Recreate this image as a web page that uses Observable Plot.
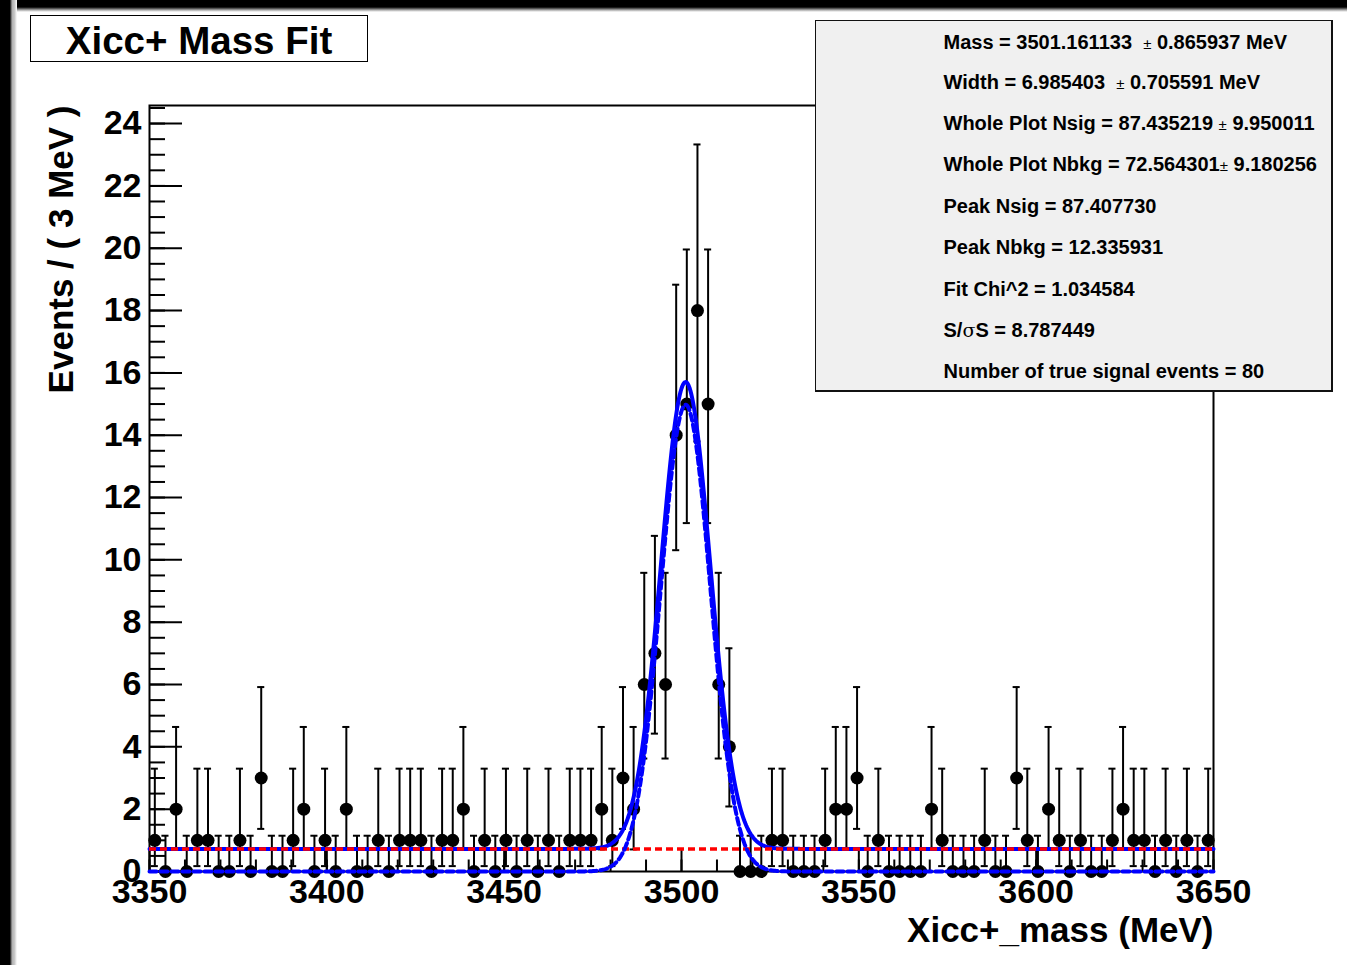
<!DOCTYPE html>
<html>
<head>
<meta charset="utf-8">
<script src="https://cdn.jsdelivr.net/npm/d3@7"></script>
<script src="https://cdn.jsdelivr.net/npm/@observablehq/plot@0.6"></script>
<style>
html,body{margin:0;padding:0;background:#fff;}
#wrap{position:relative;width:1347px;height:965px;overflow:hidden;background:#fff;font-family:"Liberation Sans",Arial,Helvetica,sans-serif;}
#chart{position:absolute;left:0;top:0;}
.band-top{position:absolute;left:0;top:0;width:1347px;height:12px;background:linear-gradient(to bottom,#000 0px,#000 7px,#555 8.5px,#aaa 10px,#fff 12px);}
.band-left{position:absolute;left:0;top:0;width:17px;height:965px;background:linear-gradient(to right,#000 0px,#000 10px,#666 11px,#b4b4b4 12.5px,#c8c8c8 14.5px,#fff 17px);}
#title{position:absolute;left:30px;top:15px;width:336px;height:45px;border:1.5px solid #000;background:#fff;font-weight:bold;font-size:38.5px;text-align:center;line-height:50px;color:#000;}
#stats{position:absolute;left:815px;top:20px;width:515px;height:369px;border:1.5px solid #111;border-right-width:2px;border-bottom-width:2px;background:#f0f0f0;color:#000;}
.ln{position:absolute;left:127.5px;font-weight:bold;font-size:20px;line-height:20px;white-space:pre;}
.pm{font-weight:normal;font-size:15px;}
.sym{font-family:"DejaVu Serif","Liberation Serif",serif;font-weight:normal;font-size:19px;}
</style>
</head>
<body>
<div id="wrap">
  <div id="chart"></div>
  <div class="band-top"></div>
  <div class="band-left"></div>
  <div id="title">Xicc+ Mass Fit</div>
  <div id="stats">
    <div class="ln" style="top:10.5px">Mass = 3501.161133  <span class="pm">±</span> 0.865937 MeV</div>
    <div class="ln" style="top:50.5px">Width = 6.985403  <span class="pm">±</span> 0.705591 MeV</div>
    <div class="ln" style="top:91.5px">Whole Plot Nsig = 87.435219 <span class="pm">±</span> 9.950011</div>
    <div class="ln" style="top:132.5px">Whole Plot Nbkg = 72.564301<span class="pm">±</span> 9.180256</div>
    <div class="ln" style="top:174.5px">Peak Nsig = 87.407730</div>
    <div class="ln" style="top:215.5px">Peak Nbkg = 12.335931</div>
    <div class="ln" style="top:257.5px">Fit Chi^2 = 1.034584</div>
    <div class="ln" style="top:298.5px">S/<span class="sym">σ</span>S = 8.787449</div>
    <div class="ln" style="top:339.5px">Number of true signal events = 80</div>
  </div>
</div>
<script>
// ---- data ----
const binStart = 3350;       // first bin lower edge (MeV)
const binWidth = 3;          // MeV per bin
const counts = [
  1,0,2,0,1,1,0,0,1,0,
  3,0,0,1,2,0,1,0,2,0,
  0,1,0,1,1,1,0,1,1,2,
  0,1,0,1,0,1,0,1,0,1,
  1,1,2,1,3,2,6,7,6,14,
  15,18,15,6,4,0,0,0,1,1,
  0,0,0,1,2,2,3,0,1,0,
  0,0,0,2,1,0,0,0,1,0,
  0,3,1,0,2,1,0,1,0,0,
  1,2,1,1,0,1,0,1,0,1
];
// Poisson (68%) asymmetric error-bar ends, per count
const poissonLow  = {0:0, 1:0.173, 2:0.708, 3:1.367, 4:2.086, 6:3.625, 7:4.424, 14:10.31, 15:11.18, 18:13.80};
const poissonHigh = {0:1.148, 1:3.300, 2:4.638, 3:5.918, 4:7.163, 6:9.584, 7:10.77, 14:18.83, 15:19.96, 18:23.33};
// fit parameters (from the stats box)
const fitMass = 3501.161133;
const fitWidth = 6.985403;
const fitNsig = 87.435219;
const fitNbkg = 72.564301;
// axis ticks
const xTicksMajor = [3350, 3400, 3450, 3500, 3550, 3600, 3650];
const xTicksMinor = d3.range(3350, 3651, 10);
const yTicksMajor = [0, 2, 4, 6, 8, 10, 12, 14, 16, 18, 20, 22, 24];
const yTicksMinor = d3.range(0, 24.6, 0.5);

// ---- layout ----
const W = 1347, H = 965;
const ML = 149, MR = 134, MT = 105, MB = 94;
const xMin = 3350, xMax = 3650, yMax = 24.58;
const pxX = (W - ML - MR) / (xMax - xMin);
const pxY = (H - MT - MB) / yMax;

const nBins = counts.length;
const points = counts.map((n, i) => ({
  x: binStart + binWidth * (i + 0.5),
  n,
  lo: poissonLow[n],
  hi: poissonHigh[n]
}));

// fit model evaluated from the fit parameters
const bkgLevel = fitNbkg / nBins;
const amp = fitNsig * binWidth / (fitWidth * Math.sqrt(2 * Math.PI));
const curve = d3.range(xMin, xMax + 0.001, 0.25).map(x => {
  const s = amp * Math.exp(-0.5 * ((x - fitMass) / fitWidth) ** 2);
  return {x, sig: s, total: s + bkgLevel};
});

const bold = {fontWeight: "bold"};
const chart = Plot.plot({
  width: W, height: H,
  marginLeft: ML, marginRight: MR, marginTop: MT, marginBottom: MB,
  x: {domain: [xMin, xMax]},
  y: {domain: [0, yMax]},
  style: {background: "transparent", fontFamily: "Liberation Sans, Arial, Helvetica, sans-serif", overflow: "visible", color: "#000"},
  marks: [
    Plot.frame({stroke: "#000", strokeWidth: 2}),
    Plot.ruleY(yTicksMinor, {y: d => d, x1: xMin, x2: xMin + 16 / pxX, stroke: "#000", strokeWidth: 2}),
    Plot.ruleY(yTicksMajor, {y: d => d, x1: xMin, x2: xMin + 33 / pxX, stroke: "#000", strokeWidth: 2}),
    Plot.ruleX(xTicksMinor, {x: d => d, y1: 0, y2: 11.5 / pxY, stroke: "#000", strokeWidth: 2}),
    Plot.ruleX(xTicksMajor, {x: d => d, y1: 0, y2: 23 / pxY, stroke: "#000", strokeWidth: 2}),
    Plot.axisY({ticks: yTicksMajor, tickSize: 0, tickPadding: 8, fontSize: 34, label: null, tickFormat: d => String(d), ...bold}),
    Plot.axisX({ticks: xTicksMajor, tickSize: 0, tickPadding: 7, fontSize: 34, label: null, tickFormat: d => String(d), ...bold}),
    Plot.text(["Events / ( 3 MeV )"], {text: d => d, frameAnchor: "top-left", rotate: -90, textAnchor: "end", lineAnchor: "middle", dx: -88, dy: 0, fontSize: 35, fill: "#000", ...bold}),
    Plot.text(["Xicc+_mass (MeV)"], {text: d => d, frameAnchor: "bottom-right", textAnchor: "end", lineAnchor: "middle", dy: 59, fontSize: 35, fill: "#000", ...bold}),
    // data points with error bars
    Plot.ruleX(points, {x: "x", y1: "lo", y2: "hi", stroke: "#000", strokeWidth: 2}),
    Plot.ruleY(points, {y: "hi", x1: d => d.x - 1, x2: d => d.x + 1, stroke: "#000", strokeWidth: 2}),
    Plot.ruleY(points, {y: "lo", x1: d => d.x - 1, x2: d => d.x + 1, stroke: "#000", strokeWidth: 2}),
    Plot.dot(points, {x: "x", y: "n", r: 6.5, fill: "#000", stroke: "none"}),
    // fit curves
    Plot.line(curve, {x: "x", y: "total", stroke: "#0000ff", strokeWidth: 4}),
    Plot.ruleY([bkgLevel], {y: d => d, stroke: "#ff0000", strokeWidth: 3.5, strokeDasharray: "7,4"}),
    Plot.line(curve, {x: "x", y: "sig", stroke: "#0000ff", strokeWidth: 4, strokeDasharray: "7,4"})
  ]
});
document.getElementById("chart").appendChild(chart);
</script>
</body>
</html>
